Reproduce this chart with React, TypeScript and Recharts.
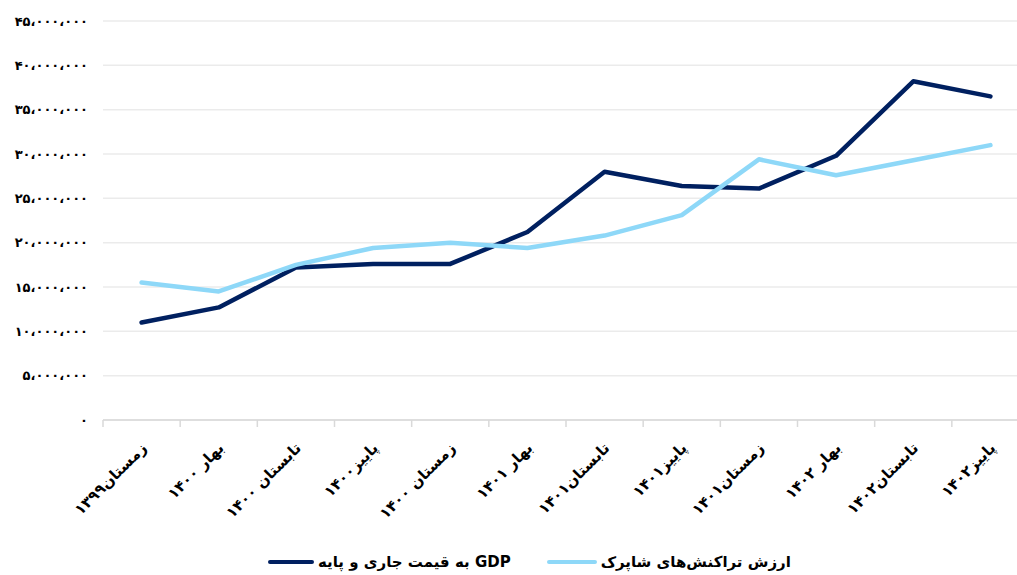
import React from 'react';
import { LineChart, Line, XAxis, YAxis, CartesianGrid } from 'recharts';

const categories = [
  'زمستان۱۳۹۹',
  'بهار ۱۴۰۰',
  'تابستان ۱۴۰۰',
  'پاییز۱۴۰۰',
  'زمستان ۱۴۰۰',
  'بهار ۱۴۰۱',
  'تابستان۱۴۰۱',
  'پاییز۱۴۰۱',
  'زمستان۱۴۰۱',
  'بهار ۱۴۰۲',
  'تابستان۱۴۰۲',
  'پاییز۱۴۰۲',
];

const gdpValues = [
  11000000, 12700000, 17200000, 17600000, 17600000, 21200000,
  28000000, 26400000, 26100000, 29800000, 38200000, 36500000,
];

const shaparakValues = [
  15500000, 14500000, 17500000, 19400000, 20000000, 19400000,
  20800000, 23100000, 29400000, 27600000, 29300000, 31000000,
];

const yTicks = [0, 5000000, 10000000, 15000000, 20000000, 25000000, 30000000, 35000000, 40000000, 45000000];
const yTickLabels = [
  '۰',
  '۵،۰۰۰،۰۰۰',
  '۱۰،۰۰۰،۰۰۰',
  '۱۵،۰۰۰،۰۰۰',
  '۲۰،۰۰۰،۰۰۰',
  '۲۵،۰۰۰،۰۰۰',
  '۳۰،۰۰۰،۰۰۰',
  '۳۵،۰۰۰،۰۰۰',
  '۴۰،۰۰۰،۰۰۰',
  '۴۵،۰۰۰،۰۰۰',
];

const seriesNames = ['GDP به قیمت جاری و پایه', 'ارزش تراکنش‌های شاپرک'];
const seriesColors = ['#002060', '#8ED8F8'];

const data = categories.map((c, i) => ({
  name: c,
  gdp: gdpValues[i],
  shaparak: shaparakValues[i],
}));

const FONT = '"DejaVu Sans", sans-serif';
const CHART_W = 1040;
const CHART_H = 575;
const Y_W = 60;
const MARGIN = { top: 21, right: 11, bottom: 0, left: 43 };
const BAND = (CHART_W - MARGIN.right - MARGIN.left - Y_W) / categories.length;

const YTick = (props: any) => {
  const { y, payload } = props;
  const idx = yTicks.indexOf(payload.value);
  return (
    <text x={88} y={y} dy={4.5} textAnchor="end" fontSize={13} fontWeight="bold" fill="#000" fontFamily={FONT}>
      {idx >= 0 ? yTickLabels[idx] : ''}
    </text>
  );
};

const XTick = (props: any) => {
  const { x, y, payload } = props;
  const half = payload && payload.offset ? payload.offset : BAND / 2;
  const left = x - half;
  const tx = x + 6;
  const ty = y + 29;
  return (
    <g>
      <line x1={left} y1={y} x2={left} y2={y + 7} stroke="#D9D9D9" strokeWidth={1.5} />
      <text
        x={tx}
        y={ty}
        textAnchor="end"
        transform={`rotate(-45, ${tx}, ${ty})`}
        fontSize={15}
        fontWeight="bold"
        fill="#000"
        fontFamily={FONT}
      >
        {payload.value}
      </text>
    </g>
  );
};

export default function App() {
  return (
    <div style={{ position: 'fixed', left: 0, top: 0, width: 1017, height: 575, overflow: 'hidden', background: '#fff' }}>
      <LineChart width={CHART_W} height={CHART_H} data={data} margin={MARGIN}>
        <CartesianGrid vertical={false} stroke="#EBEBEB" strokeWidth={1.5} />
        <XAxis
          dataKey="name"
          scale="band"
          interval={0}
          height={155}
          tickSize={0}
          tickMargin={0}
          tickLine={false}
          axisLine={{ stroke: '#D9D9D9', strokeWidth: 1.5 }}
          tick={<XTick />}
        />
        <YAxis
          width={Y_W}
          domain={[0, 45000000]}
          ticks={yTicks}
          interval={0}
          axisLine={false}
          tickLine={false}
          tick={<YTick />}
        />
        <Line
          dataKey="gdp"
          name={seriesNames[0]}
          stroke={seriesColors[0]}
          strokeWidth={4.5}
          strokeLinejoin="round"
          strokeLinecap="round"
          dot={false}
          activeDot={false}
          isAnimationActive={false}
        />
        <Line
          dataKey="shaparak"
          name={seriesNames[1]}
          stroke={seriesColors[1]}
          strokeWidth={4.5}
          strokeLinejoin="round"
          strokeLinecap="round"
          dot={false}
          activeDot={false}
          isAnimationActive={false}
        />
      </LineChart>
      <div
        style={{
          position: 'absolute',
          left: 268,
          top: 553,
          display: 'flex',
          alignItems: 'center',
          fontFamily: FONT,
          fontWeight: 'bold',
          fontSize: 15,
          color: '#000',
        }}
      >
        {seriesNames.map((n, i) => (
          <div key={n} style={{ display: 'flex', alignItems: 'center', marginRight: i === 0 ? 36 : 0 }}>
            <div style={{ width: i === 0 ? 46 : 50, height: 4.5, borderRadius: 2.5, background: seriesColors[i], marginRight: 4 }} />
            <span dir="rtl" style={{ whiteSpace: 'nowrap' }}>{n}</span>
          </div>
        ))}
      </div>
    </div>
  );
}
